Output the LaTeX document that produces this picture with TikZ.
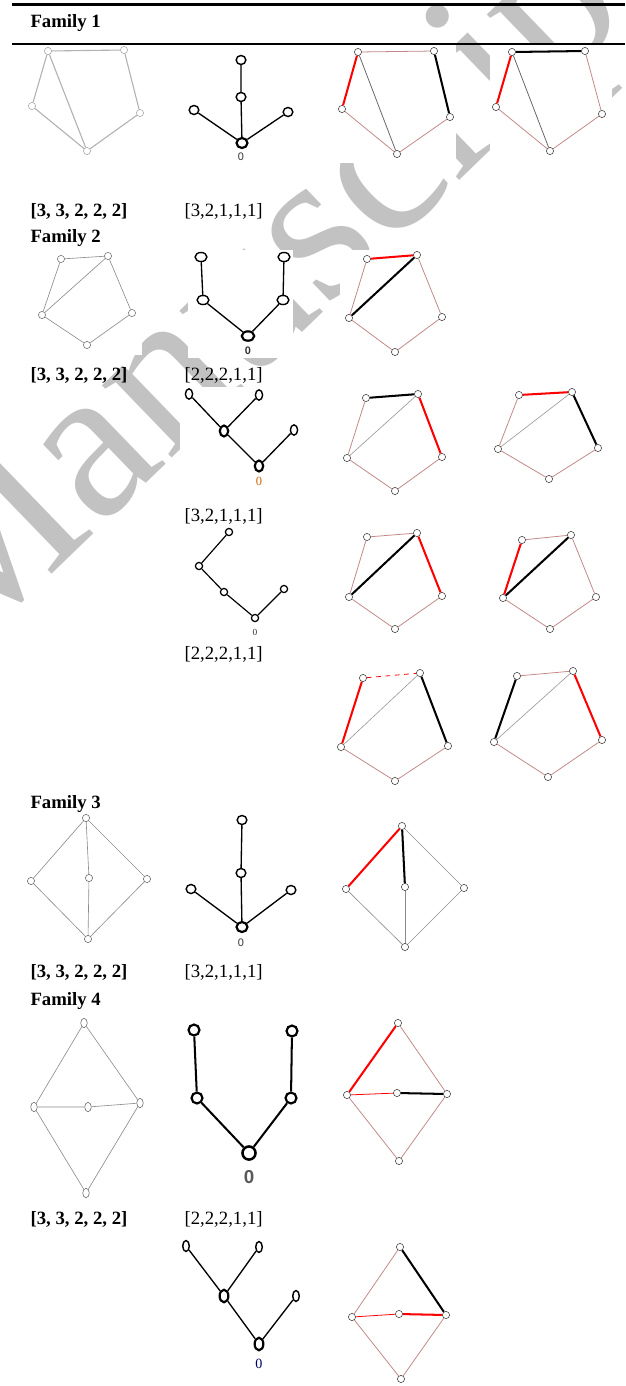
\documentclass[tikz,border=0pt]{standalone}
\usepackage{fontspec}
\setmainfont{Liberation Serif}
\newfontfamily\zerofont{Liberation Sans}
\usetikzlibrary{shapes.geometric}
\definecolor{pinkgray}{RGB}{195,135,135}
\begin{document}
\begin{tikzpicture}[x=0.64pt,y=-0.64pt,
  v/.style={circle,draw=black!75,fill=white,line width=0.35pt,inner sep=0pt,minimum size=4.6pt},
  tv/.style={ellipse,draw,fill=white,line width=0.9pt,inner sep=0pt,minimum width=6.2pt,minimum height=5.8pt},
  tvr/.style={tv,line width=1.4pt,minimum width=7pt,minimum height=6.4pt},
  te/.style={line width=0.85pt},
  ge/.style={draw=black!45,line width=0.4pt},
  ce/.style={draw=pinkgray,line width=0.5pt},
  re/.style={draw=red,line width=1.3pt},
  be/.style={draw=black,line width=1.3pt},
  rt/.style={draw=red,line width=0.5pt},
  lab/.style={anchor=base west,font=\fontsize{12}{14}\selectfont},
  famlab/.style={lab,font=\fontsize{12}{14}\selectfont\bfseries},
  zero/.style={font=\zerofont\fontsize{7}{8}\selectfont,text=black!80},
  cover/.style={fill=white}]
\useasboundingbox (0,0) rectangle (625,1386);

\node[rotate=44,text=black!24,font=\fontsize{140}{140}\selectfont] (wm) at (283,283) {Manuscript};
\fill[cover] (25,45) rectangle (152,162);
\fill[cover] (183,45) rectangle (300,163);
\fill[cover] (335,45) rectangle (456,163);
\fill[cover] (490,45) rectangle (612,160);
\fill[cover] (32,250) rectangle (142,355);
\fill[cover] (188,250) rectangle (293,358);
\fill[cover] (340,250) rectangle (450,360);
\fill[cover] (180,387) rectangle (300,488);
\fill[cover] (340,386) rectangle (450,498);
\fill[cover] (490,385) rectangle (606,487);
\fill[cover] (190,525) rectangle (292,640);
\fill[cover] (340,525) rectangle (450,637);
\fill[cover] (495,528) rectangle (604,637);

\draw[line width=1.6pt] (12,4.5) -- (625,4.5);
\draw[line width=1.6pt] (12,44) -- (625,44);

\node[famlab] (fam1) at (25,27) {Family 1};
\node[famlab] (deg1) at (25,216) {[3, 3, 2, 2, 2]};
\node[lab] (seq1) at (179,216) {[3,2,1,1,1]};
\node[famlab] (fam2) at (25,242) {Family 2};
\node[famlab] (deg2) at (25,380) {[3, 3, 2, 2, 2]};
\node[lab] (seq2) at (179,380) {[2,2,2,1,1]};
\node[lab] (seq3) at (179,521) {[3,2,1,1,1]};
\node[lab] (seq4) at (179,659) {[2,2,2,1,1]};
\node[famlab] (fam3) at (25,808) {Family 3};
\node[famlab] (deg3) at (25,977) {[3, 3, 2, 2, 2]};
\node[lab] (seq5) at (179,977) {[3,2,1,1,1]};
\node[famlab] (fam4) at (25,1005) {Family 4};
\node[famlab] (deg4) at (25,1224) {[3, 3, 2, 2, 2]};
\node[lab] (seq6) at (179,1224) {[2,2,2,1,1]};

% family 1
\node[v,draw=black!35] (A1) at (48,51) {};
\node[v,draw=black!35] (A2) at (124,50) {};
\node[v,draw=black!35] (A3) at (32,106) {};
\node[v,draw=black!35] (A4) at (140,113) {};
\node[v,draw=black!35] (A5) at (87,151) {};
\draw[draw=black!30,line width=0.7pt] (A1) -- (A2) -- (A4) -- (A5) -- (A3) -- (A1) -- (A5);

\node[tvr] (B0) at (242,143) {};
\node[tv] (B1) at (241,97) {};
\node[tv] (B2) at (241,60) {};
\node[tv] (B3) at (194,110) {};
\node[tv] (B4) at (288,112) {};
\node[zero] (B5) at (241,157) {0};
\draw[te] (B0) -- (B1) -- (B2);
\draw[te] (B0) -- (B3);
\draw[te] (B0) -- (B4);

\node[v] (C1) at (358,52) {};
\node[v] (C2) at (434,51) {};
\node[v] (C3) at (342,109) {};
\node[v] (C4) at (450,117) {};
\node[v] (C5) at (397,154) {};
\draw[ce] (C1) -- (C2);
\draw[ce] (C3) -- (C5) -- (C4);
\draw[ce,draw=black!60] (C1) -- (C5);
\draw[re] (C1) -- (C3);
\draw[be] (C2) -- (C4);

\node[v] (D1) at (512,52) {};
\node[v] (D2) at (585,51) {};
\node[v] (D3) at (496,107) {};
\node[v] (D4) at (602,114) {};
\node[v] (D5) at (550,151) {};
\draw[ce] (D2) -- (D4) -- (D5) -- (D3);
\draw[ce,draw=black!60] (D1) -- (D5);
\draw[be] (D1) -- (D2);
\draw[re] (D1) -- (D3);

% family 2
\node[v,draw=black!55] (E1) at (61,259) {};
\node[v,draw=black!55] (E2) at (108,256) {};
\node[v,draw=black!55] (E3) at (42,315) {};
\node[v,draw=black!55] (E4) at (132,313) {};
\node[v,draw=black!55] (E5) at (87,345) {};
\draw[ge] (E1) -- (E2) -- (E4) -- (E5) -- (E3) -- (E1);
\draw[ge] (E2) -- (E3);

\node[tvr,minimum width=8pt,minimum height=6pt] (F0) at (248,336) {};
\node[tv,minimum width=7.6pt] (F1) at (203,300) {};
\node[tv,minimum width=7.6pt] (F2) at (201,257) {};
\node[tv,minimum width=7.6pt] (F3) at (283,300) {};
\node[tv,minimum width=7.6pt] (F4) at (284,257) {};
\node[zero,font=\zerofont\bfseries\fontsize{7}{8}\selectfont] (F5) at (248,351) {0};
\draw[te] (F0) -- (F1) -- (F2);
\draw[te] (F0) -- (F3) -- (F4);

\node[v] (G1) at (367,259) {};
\node[v] (G2) at (417,255) {};
\node[v] (G3) at (349,318) {};
\node[v] (G4) at (442,317) {};
\node[v] (G5) at (395,352) {};
\draw[ce] (G1) -- (G3) -- (G5) -- (G4) -- (G2);
\draw[re] (G1) -- (G2);
\draw[be] (G2) -- (G3);

\node[tvr,minimum width=5.4pt,minimum height=7pt] (H0) at (259,466) {};
\node[tv,minimum width=4.6pt,minimum height=6.6pt] (H1) at (189,394) {};
\node[tvr,minimum width=5.4pt,minimum height=7pt] (H2) at (224,431) {};
\node[tv,minimum width=4.6pt,minimum height=6.6pt] (H3) at (259,395) {};
\node[tv,minimum width=4.6pt,minimum height=6.6pt] (H4) at (294,430) {};
\node[zero,font=\fontsize{8}{9}\selectfont,text=orange!80!black] (H5) at (259,481) {0};
\draw[te] (H1) -- (H2) -- (H0) -- (H4);
\draw[te] (H3) -- (H2);

\node[v] (I1) at (366,398) {};
\node[v] (I2) at (418,394) {};
\node[v] (I3) at (347,458) {};
\node[v] (I4) at (442,457) {};
\node[v] (I5) at (395,491) {};
\draw[ce] (I1) -- (I3) -- (I5) -- (I4);
\draw[ge,draw=black!40] (I2) -- (I3);
\draw[be] (I1) -- (I2);
\draw[re] (I2) -- (I4);

\node[v] (J1) at (519,395) {};
\node[v] (J2) at (572,392) {};
\node[v] (J3) at (498,449) {};
\node[v] (J4) at (598,448) {};
\node[v] (J5) at (549,479) {};
\draw[ce] (J1) -- (J3) -- (J5) -- (J4);
\draw[ge,draw=black!40] (J2) -- (J3);
\draw[re] (J1) -- (J2);
\draw[be] (J2) -- (J4);

\node[tv,minimum size=4.6pt,line width=0.8pt] (K0) at (255,618) {};
\node[tv,minimum size=4.6pt,line width=0.8pt] (K1) at (229,532) {};
\node[tv,minimum size=4.6pt,line width=0.8pt] (K2) at (199,566) {};
\node[tv,minimum size=4.6pt,line width=0.8pt] (K3) at (224,592) {};
\node[tv,minimum size=4.6pt,line width=0.8pt] (K4) at (284,589) {};
\node[zero,font=\fontsize{6}{7}\selectfont] (K5) at (255,632) {0};
\draw[te,line width=0.75pt] (K1) -- (K2) -- (K3) -- (K0) -- (K4);

\node[v] (L1) at (367,537) {};
\node[v] (L2) at (417,533) {};
\node[v] (L3) at (349,597) {};
\node[v] (L4) at (442,596) {};
\node[v] (L5) at (395,629) {};
\draw[ce] (L2) -- (L1) -- (L3) -- (L5) -- (L4);
\draw[be] (L2) -- (L3);
\draw[re] (L2) -- (L4);

\node[v] (M1) at (522,540) {};
\node[v] (M2) at (571,535) {};
\node[v] (M3) at (503,598) {};
\node[v] (M4) at (596,597) {};
\node[v] (M5) at (550,629) {};
\draw[ce] (M1) -- (M2) -- (M4) -- (M5) -- (M3);
\draw[be] (M2) -- (M3);
\draw[re] (M1) -- (M3);

\node[v] (N1) at (363,678) {};
\node[v] (N2) at (420,673) {};
\node[v] (N3) at (341,747) {};
\node[v] (N4) at (448,746) {};
\node[v] (N5) at (395,781) {};
\draw[ce] (N3) -- (N5) -- (N4);
\draw[ge,draw=black!40] (N2) -- (N3);
\draw[rt,dashed] (N1) -- (N2);
\draw[re] (N1) -- (N3);
\draw[be] (N2) -- (N4);

\node[v] (O1) at (517,676) {};
\node[v] (O2) at (573,671) {};
\node[v] (O3) at (494,742) {};
\node[v] (O4) at (602,740) {};
\node[v] (O5) at (548,777) {};
\draw[ce] (O1) -- (O2);
\draw[ce] (O3) -- (O5) -- (O4);
\draw[ge,draw=black!40] (O2) -- (O3);
\draw[be] (O1) -- (O3);
\draw[re] (O2) -- (O4);

% family 3
\node[v,draw=black!60] (P1) at (86,818) {};
\node[v,draw=black!60] (P2) at (31,881) {};
\node[v,draw=black!60] (P3) at (89,878) {};
\node[v,draw=black!60] (P4) at (147,879) {};
\node[v,draw=black!60] (P5) at (88,939) {};
\draw[ge] (P2) -- (P1) -- (P4) -- (P5) -- (P2);
\draw[ge] (P1) -- (P3) -- (P5);

\node[tvr] (Q0) at (242,927) {};
\node[tv] (Q1) at (241,873) {};
\node[tv] (Q2) at (242,820) {};
\node[tv] (Q3) at (191,889) {};
\node[tv] (Q4) at (291,890) {};
\node[zero] (Q5) at (241,943) {0};
\draw[te] (Q0) -- (Q1) -- (Q2);
\draw[te] (Q0) -- (Q3);
\draw[te] (Q0) -- (Q4);

\node[v] (R1) at (402,826) {};
\node[v] (R2) at (346,889) {};
\node[v] (R3) at (405,887) {};
\node[v] (R4) at (464,888) {};
\node[v] (R5) at (405,947) {};
\draw[ge] (R1) -- (R4) -- (R5) -- (R2);
\draw[ge] (R3) -- (R5);
\draw[re] (R1) -- (R2);
\draw[be] (R1) -- (R3);

% family 4
\node[v,draw=black!60,ellipse,minimum width=4.2pt,minimum height=6pt] (S1) at (84,1023) {};
\node[v,draw=black!60,ellipse,minimum width=4.2pt,minimum height=6pt] (S2) at (34,1107) {};
\node[v,draw=black!60,ellipse,minimum width=4.2pt,minimum height=6pt] (S3) at (88,1107) {};
\node[v,draw=black!60,ellipse,minimum width=4.2pt,minimum height=6pt] (S4) at (140,1103) {};
\node[v,draw=black!60,ellipse,minimum width=4.2pt,minimum height=6pt] (S5) at (86,1193) {};
\draw[ge] (S2) -- (S1) -- (S4) -- (S5) -- (S2);
\draw[ge] (S2) -- (S3) -- (S4);

\node[tv,minimum size=8.4pt,line width=1.6pt] (T0) at (249,1153) {};
\node[tv,minimum size=7pt,line width=1.4pt] (T1) at (197,1098) {};
\node[tv,minimum size=7pt,line width=1.4pt] (T2) at (194,1030) {};
\node[tv,minimum size=7pt,line width=1.4pt] (T3) at (291,1098) {};
\node[tv,minimum size=7pt,line width=1.4pt] (T4) at (292,1031) {};
\node[zero,font=\zerofont\bfseries\fontsize{12}{13}\selectfont,text=black!65] (T5) at (249,1177) {0};
\draw[te,line width=1.3pt] (T2) -- (T1) -- (T0) -- (T3) -- (T4);

\node[v] (U1) at (398,1023) {};
\node[v] (U2) at (347,1095) {};
\node[v] (U3) at (397,1093) {};
\node[v] (U4) at (447,1094) {};
\node[v] (U5) at (399,1161) {};
\draw[ce] (U1) -- (U4) -- (U5) -- (U2);
\draw[rt] (U2) -- (U3);
\draw[re] (U1) -- (U2);
\draw[be] (U3) -- (U4);

\node[tvr,minimum width=5.6pt,minimum height=8pt] (V0) at (259,1344) {};
\node[tv,minimum width=4.2pt,minimum height=7pt] (V1) at (186,1246) {};
\node[tvr,minimum width=5.6pt,minimum height=8pt] (V2) at (224,1296) {};
\node[tv,minimum width=4.2pt,minimum height=7pt] (V3) at (259,1247) {};
\node[tv,minimum width=4.2pt,minimum height=7pt] (V4) at (296,1296) {};
\node[zero,font=\fontsize{9}{10}\selectfont,text=black!60!blue] (V5) at (259,1364) {0};
\draw[te] (V1) -- (V2) -- (V0) -- (V4);
\draw[te] (V3) -- (V2);

\node[v] (W1) at (400,1247) {};
\node[v] (W2) at (352,1317) {};
\node[v] (W3) at (399,1314) {};
\node[v] (W4) at (446,1315) {};
\node[v] (W5) at (401,1379) {};
\draw[ce] (W1) -- (W2) -- (W5) -- (W4);
\draw[rt] (W2) -- (W3);
\draw[be] (W1) -- (W4);
\draw[re] (W3) -- (W4);
\end{tikzpicture}
\end{document}
